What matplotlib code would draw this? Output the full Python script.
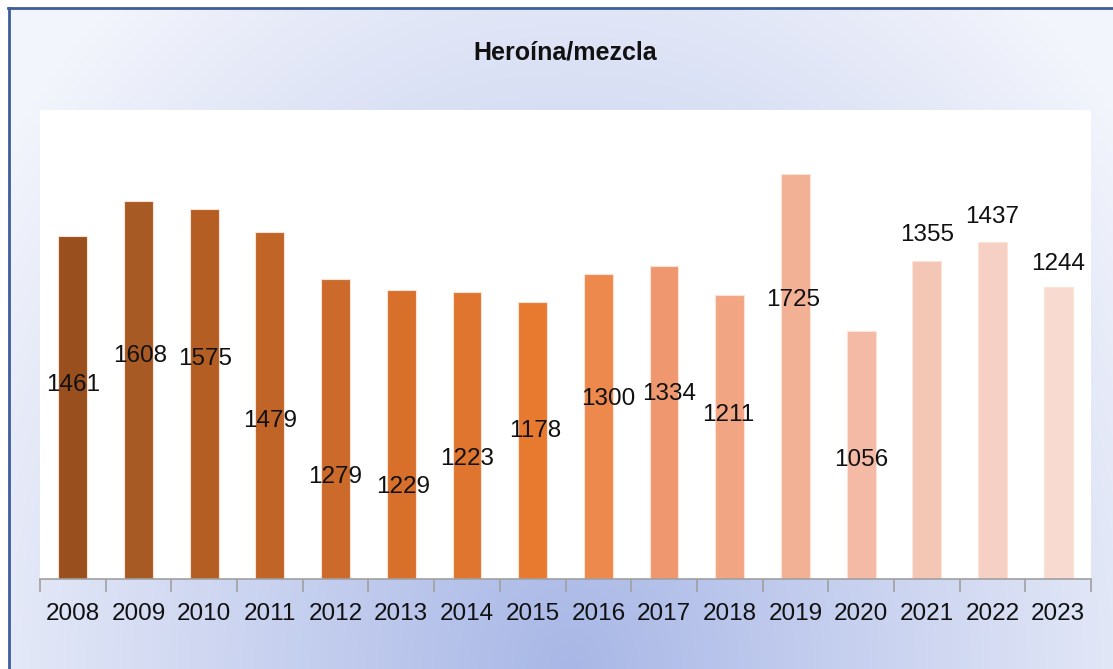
import matplotlib
matplotlib.use("Agg")
import matplotlib.pyplot as plt
import numpy as np
from matplotlib.colors import to_rgb

# datos
anios = ['2008', '2009', '2010', '2011', '2012', '2013', '2014', '2015',
         '2016', '2017', '2018', '2019', '2020', '2021', '2022', '2023']
valores = [1461, 1608, 1575, 1479, 1279, 1229, 1223, 1178,
           1300, 1334, 1211, 1725, 1056, 1355, 1437, 1244]
colores = ['#9A4F1E', '#A85A24', '#B45E24', '#C06428', '#CB6A2A', '#D8702C',
           '#E0752F', '#E87A30', '#EE894E', '#EF9870', '#F2A582', '#F2B095',
           '#F4BAA6', '#F4C6B6', '#F6D0C4', '#F8DAD0']
# posicion de las etiquetas (como quedaron en el grafico original)
etiqueta_y = [828, 948, 935, 671, 433, 390, 509, 629,
              767, 788, 699, 1190, 505, 1463, 1543, 1343]
etiqueta_dx = [0, 0.03, 0.02, 0, 0, 0.03, 0, 0.04,
               0.15, 0.07, -0.02, -0.04, 0, 0, 0, 0]

W, H = 1113, 669
fig = plt.figure(figsize=(W / 100, H / 100), dpi=100)

# fondo degradado
bg = fig.add_axes([0, 0, 1, 1], zorder=-5)
yy, xx = np.mgrid[0:H, 0:W]
d = np.sqrt(((xx - 570) / 700.0) ** 2 + ((yy - 669) / 880.0) ** 2)
d = np.clip(d, 0, 1)
c0 = np.array(to_rgb('#A8B7E6'))
c1 = np.array(to_rgb('#F3F5FC'))
img = c0[None, None, :] * (1 - d[..., None]) + c1[None, None, :] * d[..., None]
bg.imshow(img, extent=(0, W, H, 0), aspect='auto')
bg.fill_between([0, W], 0, 7, color='white')
bg.fill_between([0, 8], 0, H, color='white')
bg.plot([8, W], [8, 8], color='#3D5D9B', lw=2)
bg.plot([9, 9], [8, H], color='#3D5D9B', lw=2)
bg.set_xlim(0, W)
bg.set_ylim(H, 0)
bg.axis('off')

fig.text(565 / W, 1 - 53 / H, 'Heroína/mezcla', ha='center', va='center',
         fontsize=18, fontweight='bold', family='Liberation Sans', color='#111111')

ax = fig.add_axes([40 / W, (H - 579) / H, 1051 / W, 469 / H])
ax.set_facecolor('white')
x = np.arange(len(anios))
ax.bar(x, valores, width=0.44, color=colores, edgecolor='#FBE3D6', linewidth=0.8)

for i, v in enumerate(valores):
    ax.text(x[i] + etiqueta_dx[i], etiqueta_y[i], str(v), ha='center', va='center',
            fontsize=17.5, family='Liberation Sans', color='#111111')

ax.set_xlim(-0.5, len(anios) - 0.5)
ax.set_ylim(0, 1997)
ax.set_yticks([])
ax.set_xticks(x)
ax.set_xticklabels(anios, fontsize=17.5, family='Liberation Sans', color='#111111')
ax.set_xticks(np.arange(-0.5, len(anios)), minor=True)
ax.tick_params(axis='x', which='major', length=0, pad=17.5)
ax.tick_params(axis='x', which='minor', length=9, width=1.2, color='#A0A0A0')
for s in ['top', 'left', 'right']:
    ax.spines[s].set_visible(False)
ax.spines['bottom'].set_color('#A0A0A0')
ax.spines['bottom'].set_linewidth(1.2)

fig.savefig('out.png', dpi=100)
